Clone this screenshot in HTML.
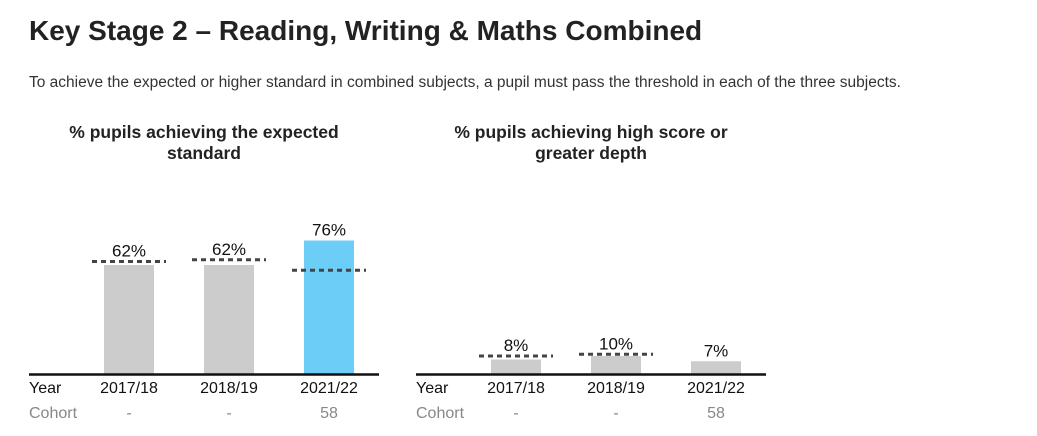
<!DOCTYPE html>
<html><head><meta charset="utf-8"><style>
body{margin:0;width:1037px;height:436px;background:#fff;font-family:"Liberation Sans",Arial,sans-serif;color:#333;overflow:hidden;position:relative}
h1{position:absolute;left:29px;top:15px;margin:0;font-size:28px;font-weight:bold;color:#222}
p{position:absolute;left:29px;top:74px;margin:0;font-size:15.5px;color:#333}
.ct{position:absolute;top:122px;width:360px;text-align:center;font-weight:bold;font-size:17.5px;line-height:21px;color:#222}
svg{position:absolute;left:0;top:0}
</style></head><body>
<h1>Key Stage 2 – Reading, Writing &amp; Maths Combined</h1>
<p>To achieve the expected or higher standard in combined subjects, a pupil must pass the threshold in each of the three subjects.</p>
<div class="ct" style="left:24px">% pupils achieving the expected<br>standard</div>
<div class="ct" style="left:411px">% pupils achieving high score or<br>greater depth</div>
<svg id="s" width="1037" height="436"></svg>
<script>
const years=["2017/18","2018/19","2021/22"];
const cohorts=["-","-","58"];
const expValues=[62,62,76];
const expNational=[64,65,59];
const highValues=[8,10,7];
const highNational=[10,11,null];
const NS="http://www.w3.org/2000/svg";
const svg=document.getElementById('s');
function mk(t,a,txt){const e=document.createElementNS(NS,t);for(const k in a)e.setAttribute(k,a[k]);if(txt!=null)e.textContent=txt;svg.appendChild(e);return e;}
function chart(x0,vals,nat,highlightLast,name){
  const base=373.5,k=1.75;
  const y=v=>base-v*k;
  const bx=i=>x0+75+i*100;
  vals.forEach((v,i)=>{
    const col=(highlightLast&&i===vals.length-1)?"#6ccdf7":"#cccccc";
    const r=mk('rect',{x:bx(i),y:y(v),width:50,height:v*k,fill:col});
    
    
    let top=y(v);
    if(nat[i]!=null){
      const l=mk('line',{x1:bx(i)-12,x2:bx(i)+62,y1:y(nat[i]),y2:y(nat[i]),stroke:"#444","stroke-width":3,"stroke-dasharray":"5,4"});
      
      
      top=Math.min(top,y(nat[i]));
    }
    const t=mk('text',{x:bx(i)+25,y:top-5,"text-anchor":"middle","font-size":17,fill:"#111"},v+"%");
    
    
    const yl=mk('text',{x:bx(i)+25,y:393,"text-anchor":"middle","font-size":16,fill:"#111"},years[i]);
    
    
    const cl=mk('text',{x:bx(i)+25,y:418,"text-anchor":"middle","font-size":16,fill:"#888"},cohorts[i]);
    
    
  });
  const ax=mk('line',{x1:x0,x2:x0+350,y1:base+1,y2:base+1,stroke:"#111","stroke-width":2.5});
  
  
  const yr=mk('text',{x:x0,y:393,"font-size":16,fill:"#111"},"Year");
  
  
  const co=mk('text',{x:x0,y:418,"font-size":16,fill:"#888"},"Cohort");
  
  
}
chart(29,expValues,expNational,true,'expected');
chart(416,highValues,highNational,false,'high');
</script>
</body></html>
